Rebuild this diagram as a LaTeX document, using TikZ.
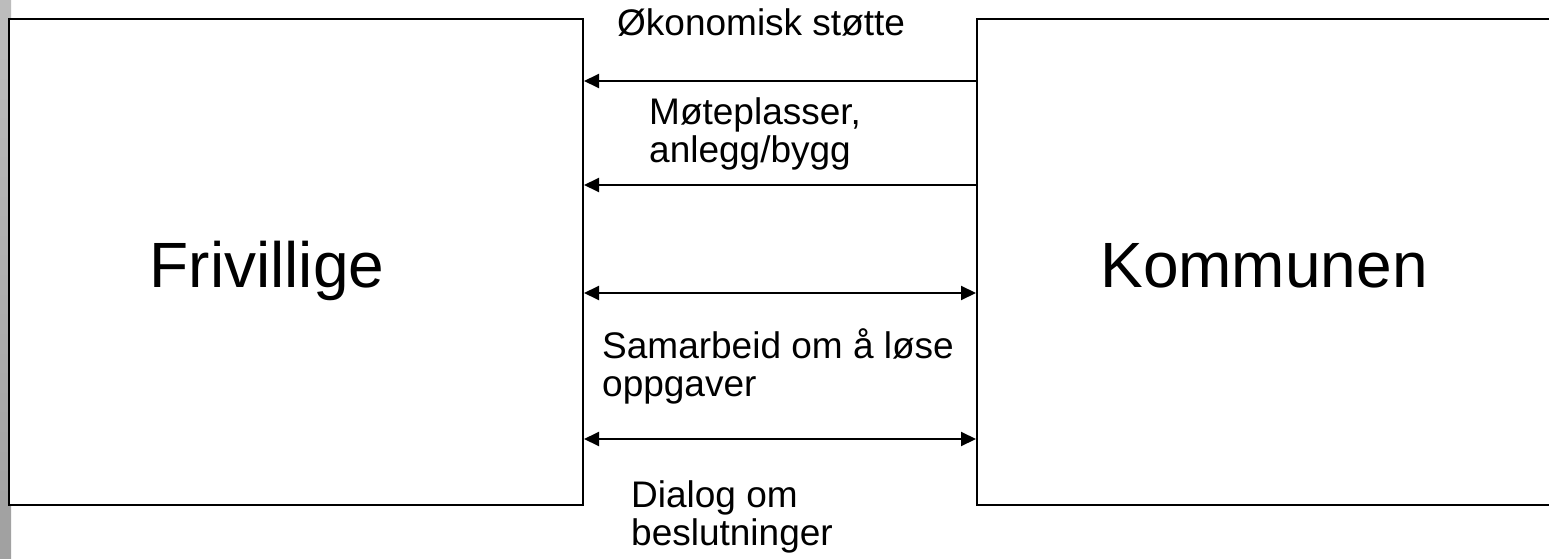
\documentclass[tikz,border=0pt]{standalone}
\usepackage{fontspec}
\setmainfont{Liberation Sans}
\usetikzlibrary{arrows.meta}
\definecolor{stripe}{HTML}{A0A0A0}

\begin{document}
\begin{tikzpicture}[x=1pt, y=-1pt,
  party/.style={draw, line width=2pt, fill=white, inner sep=0pt},
  title/.style={inner sep=0pt, anchor=base, font=\fontsize{64}{70}\selectfont},
  label/.style={inner sep=0pt, align=left, anchor=base west, font=\fontsize{37}{38}\selectfont},
  flow/.style={line width=2pt, -{Triangle[length=15pt, width=14pt]}},
  both/.style={line width=2pt, {Triangle[length=15pt, width=14pt]}-{Triangle[length=15pt, width=14pt]}}
]
  \clip (0,0) rectangle (1549,559);
  \fill[white] (0,0) rectangle (1549,559);
  \shade[top color=stripe!70, bottom color=stripe] (0,0) rectangle (11,559);

  \node[party, minimum width=574pt, minimum height=486pt] (frivillige) at (296,262) {};
  \node[party, minimum width=622pt, minimum height=486pt] (kommunen) at (1288,262) {};
  \node[title] (frivtext) at (267,287) {Frivillige};
  \node[title] (kommtext) at (1264,287) {Kommunen};

  \draw[flow] ([yshift=-63pt]kommunen.north west) -- ([yshift=-63pt]frivillige.north east);
  \draw[flow] ([yshift=-167pt]kommunen.north west) -- ([yshift=-167pt]frivillige.north east);
  \draw[both] ([yshift=-275pt]frivillige.north east) -- ([yshift=-275pt]kommunen.north west);
  \draw[both] ([yshift=-421pt]frivillige.north east) -- ([yshift=-421pt]kommunen.north west);

  \node[label] (okonomi) at (617,36) {Økonomisk støtte};
  \node[label] (moteplass) at (649,162) {Møteplasser,\\anlegg/bygg};
  \node[label] (samarbeid) at (602,396) {Samarbeid om å løse\\oppgaver};
  \node[label] (dialog) at (631,545) {Dialog om\\beslutninger};
\end{tikzpicture}
\end{document}
